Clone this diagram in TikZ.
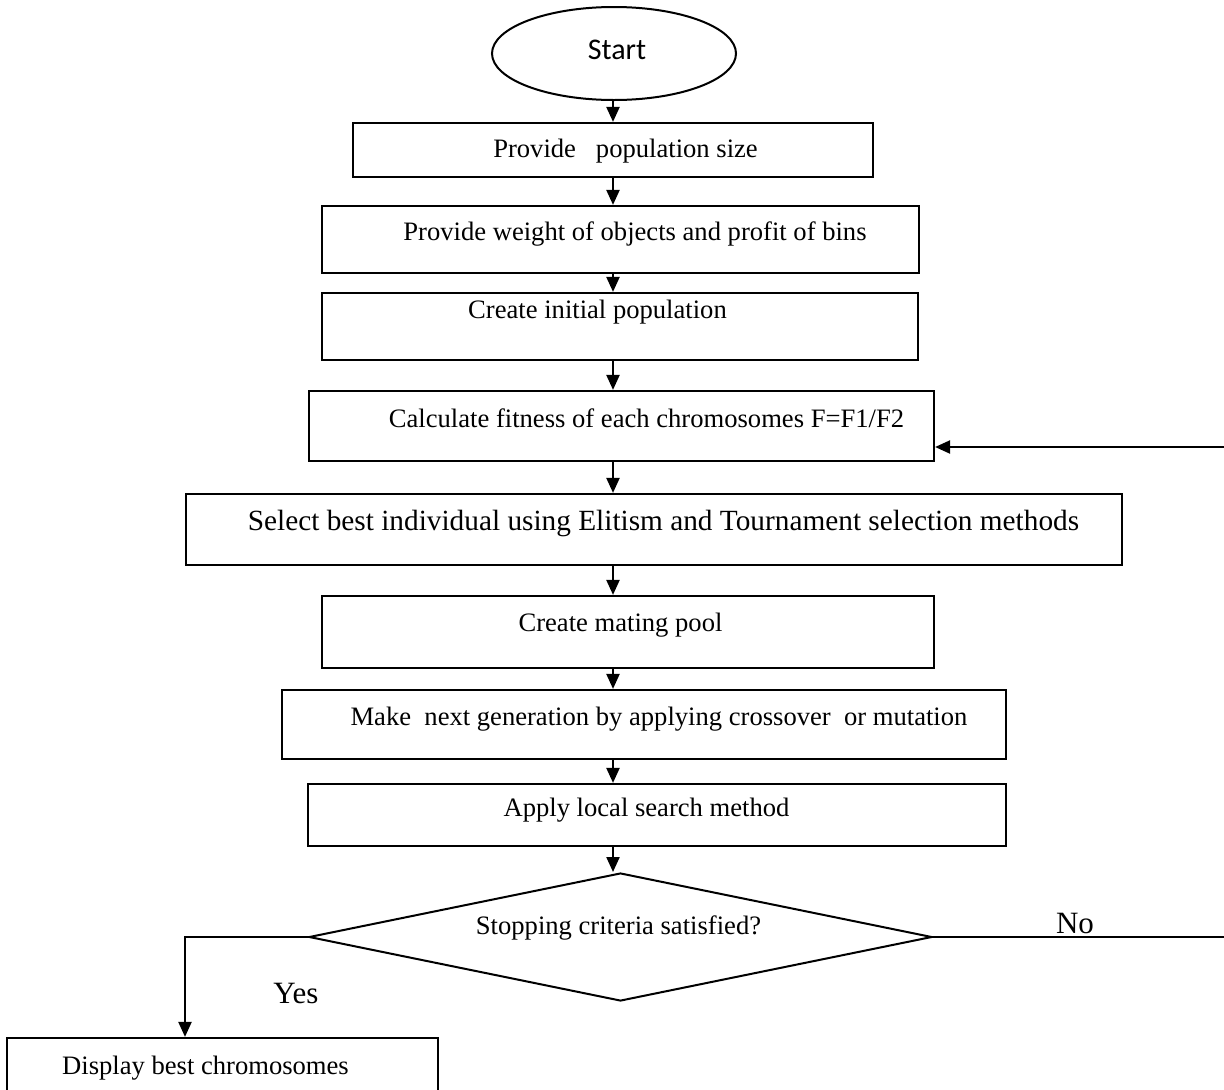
\documentclass[tikz,border=0pt]{standalone}
\usepackage{fontspec}
\setmainfont{Liberation Serif}
\newfontfamily\calfont{Carlito}
\usetikzlibrary{shapes.geometric,arrows.meta}
\begin{document}
\begin{tikzpicture}[x=1pt,y=-1pt,
  box/.style={draw, line width=2.2pt, inner sep=0pt, rectangle},
  txt/.style={anchor=base, inner sep=0pt, font=\fontsize{26.6}{30}\selectfont},
  bigtxt/.style={anchor=base, inner sep=0pt, font=\fontsize{29.3}{33}\selectfont},
  lbl/.style={anchor=base, inner sep=0pt, font=\fontsize{31}{35}\selectfont},
  arr/.style={line width=2.2pt, -{Triangle[length=15pt,width=13pt]}},
  ln/.style={line width=2.2pt}]
\useasboundingbox (0,0) rectangle (1224,1090);

% shapes
\node[draw, line width=2pt, ellipse, inner sep=0pt, minimum width=244pt, minimum height=93pt] (st) at (614,53.5) {};
\node[box, minimum width=520pt, minimum height=54pt] (b1) at (613,150) {};
\node[box, minimum width=597pt, minimum height=67pt] (b2) at (620.5,239.5) {};
\node[box, minimum width=596pt, minimum height=67pt] (b3) at (620,326.5) {};
\node[box, minimum width=625pt, minimum height=70pt] (b4) at (621.5,426) {};
\node[box, minimum width=936pt, minimum height=71pt] (b5) at (654,529.5) {};
\node[box, minimum width=612pt, minimum height=72pt] (b6) at (628,632) {};
\node[box, minimum width=724pt, minimum height=69pt] (b7) at (644,724.5) {};
\node[box, minimum width=698pt, minimum height=62pt] (b8) at (657,815) {};
\node[draw, line width=2pt, diamond, inner sep=0pt, minimum width=623pt, minimum height=128pt] (dia) at (620.5,937) {};
\node[box, minimum width=431pt, minimum height=62pt] (b9) at (222.5,1069) {};

% texts
\node[anchor=base, inner sep=0pt, font=\calfont\fontsize{30}{34}\selectfont] (t0) at (617,59) {Start};
\node[txt] (t1) at (625.5,157) {Provide\hspace{0.75em}population size};
\node[txt] (t2) at (635,240) {Provide weight of objects and profit of bins};
\node[txt] (t3) at (597.5,318) {Create initial population};
\node[txt] (t4) at (646.5,427) {Calculate fitness of each chromosomes F=F1/F2};
\node[bigtxt] (t5) at (663.5,530) {Select best individual using Elitism and Tournament selection methods};
\node[txt] (t6) at (620.5,631) {Create mating pool};
\node[txt] (t7) at (659,725) {Make\hspace{0.5em}next generation by applying crossover\hspace{0.5em}or mutation};
\node[txt] (t8) at (646.5,816) {Apply local search method};
\node[txt] (td) at (618.5,934) {Stopping criteria satisfied?};
\node[txt] (t9) at (205.5,1074) {Display best chromosomes};
\node[lbl] (yes) at (296,1003) {Yes};
\node[lbl] (no) at (1075,933) {No};

% connectors
\coordinate (ax) at (613,0);
\coordinate (yx) at (185,0);
\coordinate (fb) at (1232,937);
\draw[arr] (st.south -| ax) -- (b1.north -| ax);
\draw[arr] (b1.south -| ax) -- (b2.north -| ax);
\draw[arr] (b2.south -| ax) -- (b3.north -| ax);
\draw[arr] (b3.south -| ax) -- (b4.north -| ax);
\draw[arr] (b4.south -| ax) -- (b5.north -| ax);
\draw[arr] (b5.south -| ax) -- (b6.north -| ax);
\draw[arr] (b6.south -| ax) -- (b7.north -| ax);
\draw[arr] (b7.south -| ax) -- (b8.north -| ax);
\draw[arr] (b8.south -| ax) -- (dia.north -| ax);
\draw[arr] (dia.west) -| (yx |- b9.north);
\draw[arr] (dia.east) -- (fb) |- ([yshift=-21pt]b4.east);
\end{tikzpicture}
\end{document}
